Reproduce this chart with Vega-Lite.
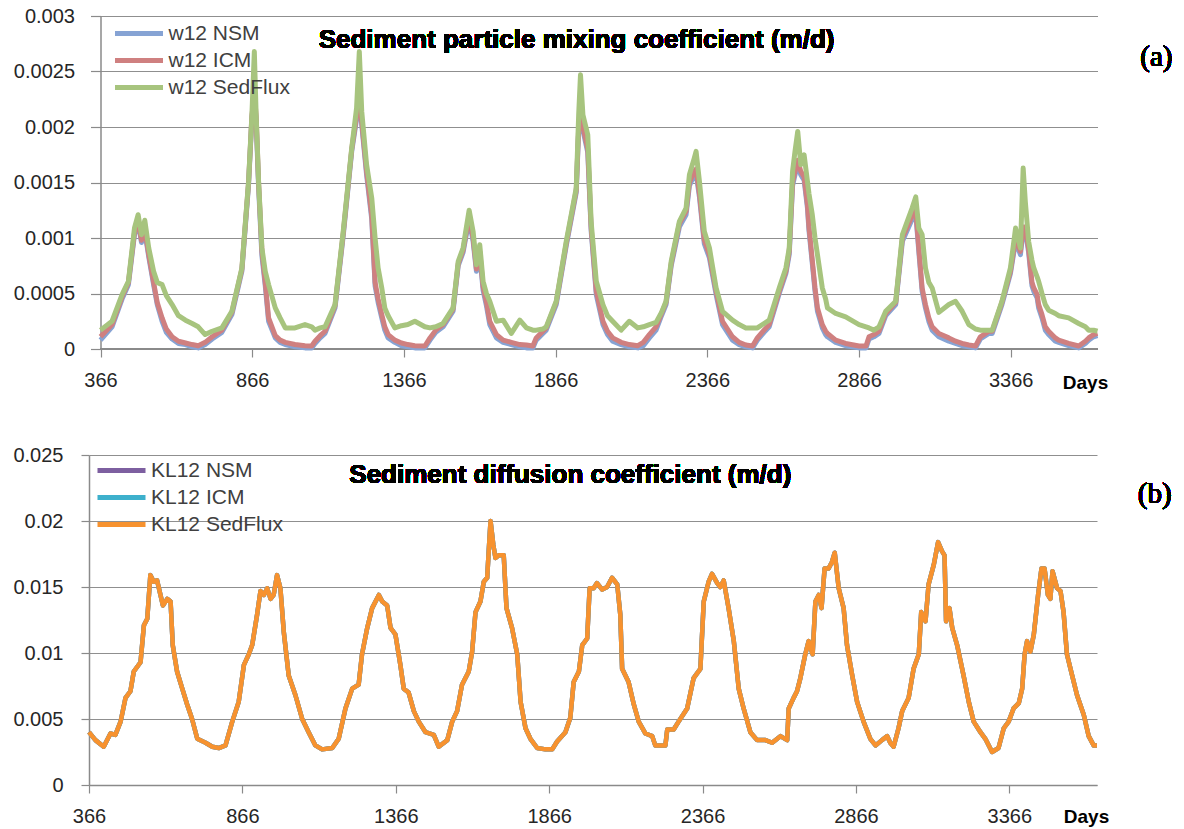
{
  "$schema": "https://vega.github.io/schema/vega-lite/v6.json",
  "background": "white",
  "padding": {"left": 12, "top": 6, "right": 5, "bottom": 5},
  "spacing": 53,
  "resolve": {"scale": {"color": "independent"}, "legend": {"color": "independent"}},
  "config": {
    "view": {"stroke": null},
    "font": "Liberation Sans",
    "axis": {
      "labelFont": "Liberation Sans",
      "labelFontSize": 20,
      "labelColor": "#262626",
      "domainColor": "#8a8a8a",
      "domainWidth": 1.5,
      "tickColor": "#8a8a8a",
      "tickWidth": 1.2,
      "gridColor": "#8f8f8f",
      "gridWidth": 1,
      "titleFont": "Liberation Sans",
      "titleColor": "#000000"
    }
  },
  "vconcat": [
    {
      "width": 1008.5,
      "height": 333,
      "data": {"values": [
        {"d":366,"b":0.00008,"r":0.00011,"g":0.00017},
        {"d":404,"b":0.0002,"r":0.00022,"g":0.00025},
        {"d":437,"b":0.00045,"r":0.00047,"g":0.00049},
        {"d":458,"b":0.00058,"r":0.0006,"g":0.00061},
        {"d":478,"b":0.00103,"r":0.00105,"g":0.00109},
        {"d":490,"b":0.00114,"r":0.00116,"g":0.00121},
        {"d":501,"b":0.00096,"r":0.00098,"g":0.00103},
        {"d":512,"b":0.00106,"r":0.00108,"g":0.00116},
        {"d":525,"b":0.00083,"r":0.00085,"g":0.00091},
        {"d":541,"b":0.00058,"r":0.0006,"g":0.0007},
        {"d":553,"b":0.0004,"r":0.00042,"g":0.0006},
        {"d":569,"b":0.00025,"r":0.00028,"g":0.00058},
        {"d":583,"b":0.00015,"r":0.00018,"g":0.00048},
        {"d":602,"b":0.00009,"r":0.00011,"g":0.0004},
        {"d":623,"b":0.00005,"r":0.00007,"g":0.0003},
        {"d":646,"b":0.00004,"r":0.000054,"g":0.00026},
        {"d":668,"b":0.00002,"r":0.00004,"g":0.00023},
        {"d":688,"b":0.00001,"r":0.00003,"g":0.0002},
        {"d":711,"b":0.00004,"r":0.00006,"g":0.00013},
        {"d":734,"b":0.00009,"r":0.00011,"g":0.00016},
        {"d":766,"b":0.00015,"r":0.00017,"g":0.00019},
        {"d":799,"b":0.00031,"r":0.00033,"g":0.00034},
        {"d":832,"b":0.0007,"r":0.00072,"g":0.00073},
        {"d":854,"b":0.00148,"r":0.0015,"g":0.00151},
        {"d":865,"b":0.00208,"r":0.0021,"g":0.00211},
        {"d":873,"b":0.00228,"r":0.0023,"g":0.00268},
        {"d":879,"b":0.00205,"r":0.0021,"g":0.00211},
        {"d":887,"b":0.00146,"r":0.0015,"g":0.00151},
        {"d":898,"b":0.00084,"r":0.00088,"g":0.00091},
        {"d":909,"b":0.00057,"r":0.0006,"g":0.0007},
        {"d":920,"b":0.00025,"r":0.00028,"g":0.00058},
        {"d":942,"b":0.0001,"r":0.00012,"g":0.00037},
        {"d":958,"b":0.00006,"r":0.00008,"g":0.00028},
        {"d":975,"b":0.00004,"r":0.00006,"g":0.00019},
        {"d":1007,"b":0.00002,"r":0.00004,"g":0.00019},
        {"d":1040,"b":0.00001,"r":0.00003,"g":0.00022},
        {"d":1062,"b":0.00001,"r":0.000027,"g":0.0002},
        {"d":1073,"b":0.00005,"r":0.00007,"g":0.00017},
        {"d":1090,"b":0.0001,"r":0.00012,"g":0.00019},
        {"d":1106,"b":0.00014,"r":0.00016,"g":0.0002},
        {"d":1139,"b":0.00037,"r":0.00039,"g":0.0004},
        {"d":1166,"b":0.00102,"r":0.00104,"g":0.00106},
        {"d":1194,"b":0.00178,"r":0.0018,"g":0.00181},
        {"d":1210,"b":0.00207,"r":0.0021,"g":0.00217},
        {"d":1219,"b":0.00227,"r":0.0023,"g":0.00268},
        {"d":1227,"b":0.00202,"r":0.00205,"g":0.00214},
        {"d":1243,"b":0.00157,"r":0.0016,"g":0.00166},
        {"d":1260,"b":0.00117,"r":0.0012,"g":0.00136},
        {"d":1271,"b":0.00057,"r":0.0006,"g":0.001},
        {"d":1281,"b":0.00042,"r":0.00045,"g":0.00073},
        {"d":1293,"b":0.00028,"r":0.00031,"g":0.00055},
        {"d":1303,"b":0.00017,"r":0.0002,"g":0.00037},
        {"d":1314,"b":0.0001,"r":0.00013,"g":0.0003},
        {"d":1336,"b":0.00006,"r":0.00008,"g":0.00019},
        {"d":1358,"b":0.00003,"r":0.000054,"g":0.00021},
        {"d":1379,"b":0.00002,"r":0.00004,"g":0.00022},
        {"d":1402,"b":0.00001,"r":0.00003,"g":0.00025},
        {"d":1435,"b":0.00001,"r":0.000027,"g":0.0002},
        {"d":1452,"b":0.00008,"r":0.0001,"g":0.00019},
        {"d":1471,"b":0.00015,"r":0.00017,"g":0.0002},
        {"d":1495,"b":0.0002,"r":0.00022,"g":0.00023},
        {"d":1528,"b":0.00034,"r":0.00036,"g":0.00037},
        {"d":1545,"b":0.00075,"r":0.00077,"g":0.00079},
        {"d":1561,"b":0.00087,"r":0.00089,"g":0.00091},
        {"d":1581,"b":0.00117,"r":0.0012,"g":0.00125},
        {"d":1594,"b":0.00097,"r":0.001,"g":0.00106},
        {"d":1605,"b":0.0007,"r":0.00072,"g":0.00076},
        {"d":1616,"b":0.00085,"r":0.00088,"g":0.00094},
        {"d":1627,"b":0.00053,"r":0.00056,"g":0.00061},
        {"d":1638,"b":0.00039,"r":0.00042,"g":0.0005},
        {"d":1649,"b":0.00022,"r":0.00025,"g":0.00043},
        {"d":1671,"b":0.0001,"r":0.00013,"g":0.00025},
        {"d":1693,"b":0.00006,"r":0.00008,"g":0.00026},
        {"d":1720,"b":0.00004,"r":0.00006,"g":0.00014},
        {"d":1748,"b":0.00002,"r":0.00004,"g":0.00026},
        {"d":1770,"b":0.00001,"r":0.000036,"g":0.00019},
        {"d":1791,"b":0.00001,"r":0.000027,"g":0.00017},
        {"d":1802,"b":0.00008,"r":0.0001,"g":0.00017},
        {"d":1824,"b":0.00014,"r":0.00016,"g":0.00018},
        {"d":1835,"b":0.00017,"r":0.00019,"g":0.0002},
        {"d":1868,"b":0.0004,"r":0.00042,"g":0.00043},
        {"d":1901,"b":0.00093,"r":0.00095,"g":0.00097},
        {"d":1934,"b":0.00141,"r":0.00143,"g":0.00145},
        {"d":1942,"b":0.00197,"r":0.002,"g":0.00211},
        {"d":1948,"b":0.00216,"r":0.0022,"g":0.00247},
        {"d":1956,"b":0.00197,"r":0.002,"g":0.00211},
        {"d":1972,"b":0.00177,"r":0.0018,"g":0.00193},
        {"d":1983,"b":0.00107,"r":0.0011,"g":0.00115},
        {"d":2000,"b":0.00049,"r":0.00052,"g":0.00061},
        {"d":2022,"b":0.00022,"r":0.00025,"g":0.0004},
        {"d":2037,"b":0.00013,"r":0.00016,"g":0.0003},
        {"d":2054,"b":0.00007,"r":0.0001,"g":0.00025},
        {"d":2082,"b":0.00004,"r":0.00006,"g":0.00017},
        {"d":2109,"b":0.00002,"r":0.00004,"g":0.00025},
        {"d":2137,"b":0.00001,"r":0.00003,"g":0.00019},
        {"d":2155,"b":0.00003,"r":0.00006,"g":0.0002},
        {"d":2175,"b":0.0001,"r":0.00013,"g":0.00022},
        {"d":2197,"b":0.00017,"r":0.0002,"g":0.00024},
        {"d":2215,"b":0.0003,"r":0.00032,"g":0.00033},
        {"d":2230,"b":0.0004,"r":0.00042,"g":0.00043},
        {"d":2247,"b":0.00075,"r":0.00077,"g":0.00079},
        {"d":2274,"b":0.0011,"r":0.00113,"g":0.00115},
        {"d":2296,"b":0.00121,"r":0.00124,"g":0.00127},
        {"d":2307,"b":0.00147,"r":0.0015,"g":0.00157},
        {"d":2323,"b":0.00157,"r":0.0016,"g":0.00172},
        {"d":2329,"b":0.00158,"r":0.00162,"g":0.00178},
        {"d":2340,"b":0.00137,"r":0.0014,"g":0.00151},
        {"d":2356,"b":0.00095,"r":0.00098,"g":0.00106},
        {"d":2373,"b":0.00082,"r":0.00085,"g":0.00091},
        {"d":2395,"b":0.00049,"r":0.00052,"g":0.00055},
        {"d":2416,"b":0.00022,"r":0.00025,"g":0.00034},
        {"d":2449,"b":0.00008,"r":0.00011,"g":0.00026},
        {"d":2471,"b":0.00004,"r":0.00006,"g":0.00022},
        {"d":2493,"b":0.00002,"r":0.000036,"g":0.00019},
        {"d":2515,"b":0.00001,"r":0.000027,"g":0.00019},
        {"d":2531,"b":0.00008,"r":0.0001,"g":0.00019},
        {"d":2553,"b":0.00015,"r":0.00017,"g":0.00023},
        {"d":2570,"b":0.0002,"r":0.00022,"g":0.00026},
        {"d":2603,"b":0.0005,"r":0.00052,"g":0.00055},
        {"d":2625,"b":0.00068,"r":0.0007,"g":0.00073},
        {"d":2636,"b":0.00085,"r":0.00088,"g":0.00091},
        {"d":2647,"b":0.00147,"r":0.0015,"g":0.0016},
        {"d":2655,"b":0.00157,"r":0.0016,"g":0.00178},
        {"d":2664,"b":0.00166,"r":0.0017,"g":0.00196},
        {"d":2674,"b":0.00157,"r":0.0016,"g":0.00166},
        {"d":2685,"b":0.00152,"r":0.00155,"g":0.00175},
        {"d":2696,"b":0.00127,"r":0.0013,"g":0.00151},
        {"d":2701,"b":0.00107,"r":0.0011,"g":0.0014},
        {"d":2712,"b":0.00077,"r":0.0008,"g":0.00121},
        {"d":2721,"b":0.00052,"r":0.00055,"g":0.001},
        {"d":2729,"b":0.00034,"r":0.00037,"g":0.00085},
        {"d":2745,"b":0.00019,"r":0.00022,"g":0.00055},
        {"d":2756,"b":0.00013,"r":0.00016,"g":0.00045},
        {"d":2762,"b":0.00011,"r":0.00014,"g":0.00037},
        {"d":2789,"b":0.00006,"r":0.00008,"g":0.00032},
        {"d":2822,"b":0.00003,"r":0.00005,"g":0.00029},
        {"d":2866,"b":0.00001,"r":0.000027,"g":0.00022},
        {"d":2889,"b":0.00001,"r":0.000027,"g":0.0002},
        {"d":2899,"b":0.00009,"r":0.00011,"g":0.00019},
        {"d":2915,"b":0.00011,"r":0.00013,"g":0.00017},
        {"d":2932,"b":0.00014,"r":0.00016,"g":0.0002},
        {"d":2954,"b":0.0003,"r":0.00032,"g":0.00034},
        {"d":2987,"b":0.0004,"r":0.00042,"g":0.00043},
        {"d":3009,"b":0.00097,"r":0.001,"g":0.00103},
        {"d":3025,"b":0.00107,"r":0.0011,"g":0.00115},
        {"d":3041,"b":0.00117,"r":0.0012,"g":0.00127},
        {"d":3053,"b":0.00122,"r":0.00125,"g":0.00137},
        {"d":3063,"b":0.00088,"r":0.00091,"g":0.00109},
        {"d":3074,"b":0.00052,"r":0.00055,"g":0.00103},
        {"d":3085,"b":0.00037,"r":0.0004,"g":0.00073},
        {"d":3096,"b":0.00025,"r":0.00028,"g":0.0006},
        {"d":3107,"b":0.00017,"r":0.0002,"g":0.00055},
        {"d":3129,"b":0.00011,"r":0.00014,"g":0.00033},
        {"d":3162,"b":0.00007,"r":0.0001,"g":0.0004},
        {"d":3184,"b":0.00005,"r":0.00007,"g":0.00043},
        {"d":3206,"b":0.00003,"r":0.00005,"g":0.00034},
        {"d":3228,"b":0.00002,"r":0.000036,"g":0.00022},
        {"d":3250,"b":0.00001,"r":0.000027,"g":0.00018},
        {"d":3266,"b":0.00009,"r":0.00011,"g":0.00017},
        {"d":3294,"b":0.00014,"r":0.00016,"g":0.00017},
        {"d":3305,"b":0.00014,"r":0.00016,"g":0.00017},
        {"d":3337,"b":0.0004,"r":0.00042,"g":0.00043},
        {"d":3365,"b":0.00068,"r":0.0007,"g":0.00073},
        {"d":3382,"b":0.00097,"r":0.001,"g":0.00109},
        {"d":3398,"b":0.00085,"r":0.00088,"g":0.00091},
        {"d":3407,"b":0.00107,"r":0.0011,"g":0.00163},
        {"d":3414,"b":0.00107,"r":0.0011,"g":0.00133},
        {"d":3425,"b":0.00087,"r":0.0009,"g":0.00097},
        {"d":3436,"b":0.00057,"r":0.0006,"g":0.0008},
        {"d":3442,"b":0.00052,"r":0.00055,"g":0.00073},
        {"d":3453,"b":0.00046,"r":0.00049,"g":0.00065},
        {"d":3458,"b":0.00037,"r":0.0004,"g":0.00061},
        {"d":3469,"b":0.00028,"r":0.00031,"g":0.0005},
        {"d":3480,"b":0.00017,"r":0.0002,"g":0.0004},
        {"d":3491,"b":0.00013,"r":0.00016,"g":0.00035},
        {"d":3513,"b":0.00007,"r":0.0001,"g":0.00032},
        {"d":3524,"b":0.00006,"r":0.00008,"g":0.0003},
        {"d":3557,"b":0.00003,"r":0.00005,"g":0.00028},
        {"d":3590,"b":0.00001,"r":0.000027,"g":0.00023},
        {"d":3612,"b":0.00005,"r":0.00007,"g":0.0002},
        {"d":3623,"b":0.00008,"r":0.0001,"g":0.00017},
        {"d":3639,"b":0.00011,"r":0.00013,"g":0.00017},
        {"d":3652,"b":0.00012,"r":0.00014,"g":0.00016}
      ]},
      "encoding": {
        "x": {
          "field": "d", "type": "quantitative",
          "scale": {"domain": [366, 3652], "nice": false, "zero": false, "range": [11.5, 1008.5]},
          "axis": {
            "values": [366, 866, 1366, 1866, 2366, 2866, 3366],
            "format": "d", "grid": false, "domain": false, "tickSize": 8, "labelPadding": 13,
            "labelFlush": false,
            "title": "Days", "titleFontWeight": "bold", "titleFontSize": 19,
            "titleX": 996, "titleY": 39, "titleAlign": "center", "titleBaseline": "alphabetic"
          }
        }
      },
      "layer": [
        {
          "mark": {"type": "rule", "color": "#8a8a8a", "strokeWidth": 1.5},
          "encoding": {
            "x": {"datum": 366, "type": "quantitative"},
            "x2": {"datum": 3652},
            "y": {"datum": 0, "type": "quantitative",
              "scale": {"domain": [0, 0.003], "nice": false},
              "axis": {"values": [0, 0.0005, 0.001, 0.0015, 0.002, 0.0025, 0.003], "format": "~g",
                "tickSize": 10, "labelPadding": 16, "grid": true, "title": null, "offset": -11.5}}
          }
        },
        {
          "mark": {"type": "line", "strokeWidth": 5, "strokeJoin": "round"},
          "encoding": {
            "y": {"field": "b", "type": "quantitative", "axis": {"title": null}},
            "color": {"datum": "w12 NSM", "type": "nominal",
              "scale": {"domain": ["w12 NSM", "w12 ICM", "w12 SedFlux"], "range": ["#86A3D4", "#CF8080", "#A7C47E"]},
              "legend": {"orient": "none", "legendX": 23.5, "legendY": 4, "direction": "vertical",
                "symbolType": "stroke", "symbolSize": 2304, "symbolStrokeWidth": 5, "clipHeight": 27,
                "rowPadding": 0, "labelFontSize": 21, "labelFont": "Liberation Sans", "labelColor": "#404040",
                "labelOffset": 3, "padding": 0, "title": null}}
          }
        },
        {
          "mark": {"type": "line", "strokeWidth": 5, "strokeJoin": "round"},
          "encoding": {
            "y": {"field": "r", "type": "quantitative", "axis": {"title": null}},
            "color": {"datum": "w12 ICM", "type": "nominal"}
          }
        },
        {
          "mark": {"type": "line", "strokeWidth": 5, "strokeJoin": "round"},
          "encoding": {
            "y": {"field": "g", "type": "quantitative", "axis": {"title": null}},
            "color": {"datum": "w12 SedFlux", "type": "nominal"}
          }
        },
        {
          "mark": {"type": "text", "text": "Sediment particle mixing coefficient (m/d)", "font": "Liberation Sans",
            "fontSize": 26, "fontWeight": "bold", "align": "center", "baseline": "alphabetic",
            "fill": "#000000", "stroke": "transparent", "strokeWidth": 0},
          "encoding": {
            "x": {"datum": 1935, "type": "quantitative"},
            "y": {"datum": 0.00271, "type": "quantitative"}
          }
        },
        {
          "mark": {"type": "text", "text": "(a)", "font": "Liberation Serif",
            "fontSize": 29, "align": "center", "baseline": "alphabetic",
            "fill": "#000000", "stroke": "transparent", "strokeWidth": 0},
          "encoding": {
            "x": {"datum": 3846, "type": "quantitative"},
            "y": {"datum": 0.00255, "type": "quantitative"}
          }
        }
      ]
    },
    {
      "width": 1008,
      "height": 330,
      "data": {"values": [
        {"d":366,"k":0.004},{"d":387,"k":0.0034},{"d":414,"k":0.0029},{"d":436,"k":0.0039},{"d":452,"k":0.0038},
        {"d":469,"k":0.0048},{"d":485,"k":0.0066},{"d":501,"k":0.0071},{"d":512,"k":0.0086},{"d":534,"k":0.0093},
        {"d":545,"k":0.0121},{"d":556,"k":0.0126},{"d":566,"k":0.0159},{"d":577,"k":0.0154},{"d":588,"k":0.0155},
        {"d":607,"k":0.0136},{"d":621,"k":0.0141},{"d":632,"k":0.0139},{"d":639,"k":0.0106},{"d":653,"k":0.0086},
        {"d":670,"k":0.0073},{"d":686,"k":0.0061},{"d":702,"k":0.005},{"d":719,"k":0.0035},{"d":746,"k":0.0032},
        {"d":768,"k":0.0029},{"d":789,"k":0.0028},{"d":811,"k":0.003},{"d":833,"k":0.0048},{"d":854,"k":0.0063},
        {"d":871,"k":0.0091},{"d":887,"k":0.0099},{"d":898,"k":0.0106},{"d":914,"k":0.0129},{"d":925,"k":0.0147},
        {"d":936,"k":0.0144},{"d":947,"k":0.0149},{"d":958,"k":0.0141},{"d":968,"k":0.0144},{"d":979,"k":0.0159},
        {"d":990,"k":0.0149},{"d":1001,"k":0.0116},{"d":1017,"k":0.0083},{"d":1039,"k":0.0068},{"d":1061,"k":0.005},
        {"d":1082,"k":0.004},{"d":1104,"k":0.003},{"d":1126,"k":0.0027},{"d":1159,"k":0.0028},{"d":1180,"k":0.0035},
        {"d":1202,"k":0.0058},{"d":1224,"k":0.0073},{"d":1245,"k":0.0076},{"d":1256,"k":0.0099},{"d":1273,"k":0.0119},
        {"d":1289,"k":0.0134},{"d":1311,"k":0.0144},{"d":1322,"k":0.0139},{"d":1338,"k":0.0136},{"d":1349,"k":0.0119},
        {"d":1365,"k":0.0114},{"d":1381,"k":0.0091},{"d":1392,"k":0.0073},{"d":1408,"k":0.007},{"d":1425,"k":0.0056},
        {"d":1441,"k":0.0048},{"d":1463,"k":0.004},{"d":1490,"k":0.0038},{"d":1506,"k":0.0029},{"d":1534,"k":0.0034},
        {"d":1550,"k":0.0048},{"d":1566,"k":0.0056},{"d":1582,"k":0.0076},{"d":1604,"k":0.0086},{"d":1615,"k":0.0101},
        {"d":1626,"k":0.0131},{"d":1642,"k":0.0139},{"d":1653,"k":0.0154},{"d":1664,"k":0.0157},{"d":1669,"k":0.0177},
        {"d":1675,"k":0.02},{"d":1684,"k":0.0182},{"d":1691,"k":0.0172},{"d":1702,"k":0.0174},{"d":1718,"k":0.0174},
        {"d":1727,"k":0.0134},{"d":1745,"k":0.0119},{"d":1762,"k":0.0099},{"d":1773,"k":0.0063},{"d":1789,"k":0.0043},
        {"d":1805,"k":0.0035},{"d":1827,"k":0.0028},{"d":1854,"k":0.0027},{"d":1876,"k":0.0027},{"d":1892,"k":0.0033},
        {"d":1919,"k":0.004},{"d":1935,"k":0.0051},{"d":1946,"k":0.0078},{"d":1963,"k":0.0086},{"d":1974,"k":0.0106},
        {"d":1990,"k":0.0111},{"d":1998,"k":0.0149},{"d":2011,"k":0.0149},{"d":2022,"k":0.0153},{"d":2039,"k":0.0148},
        {"d":2055,"k":0.015},{"d":2071,"k":0.0157},{"d":2088,"k":0.0152},{"d":2098,"k":0.0129},{"d":2104,"k":0.0088},
        {"d":2125,"k":0.0078},{"d":2142,"k":0.0061},{"d":2158,"k":0.0048},{"d":2180,"k":0.0039},{"d":2202,"k":0.0037},
        {"d":2212,"k":0.003},{"d":2245,"k":0.003},{"d":2251,"k":0.0042},{"d":2272,"k":0.0042},{"d":2288,"k":0.0048},
        {"d":2316,"k":0.0058},{"d":2337,"k":0.0081},{"d":2359,"k":0.0088},{"d":2370,"k":0.0139},{"d":2386,"k":0.0154},
        {"d":2397,"k":0.016},{"d":2414,"k":0.0153},{"d":2424,"k":0.015},{"d":2435,"k":0.0155},{"d":2451,"k":0.0134},
        {"d":2468,"k":0.0109},{"d":2484,"k":0.0073},{"d":2500,"k":0.0058},{"d":2522,"k":0.004},{"d":2544,"k":0.0034},
        {"d":2571,"k":0.0034},{"d":2593,"k":0.0032},{"d":2620,"k":0.0037},{"d":2642,"k":0.0034},{"d":2647,"k":0.0058},
        {"d":2663,"k":0.0066},{"d":2674,"k":0.0071},{"d":2685,"k":0.0081},{"d":2701,"k":0.0099},{"d":2712,"k":0.0109},
        {"d":2725,"k":0.0099},{"d":2734,"k":0.0139},{"d":2745,"k":0.0144},{"d":2754,"k":0.0134},{"d":2764,"k":0.0164},
        {"d":2777,"k":0.0164},{"d":2788,"k":0.0169},{"d":2797,"k":0.0176},{"d":2810,"k":0.0149},{"d":2826,"k":0.0134},
        {"d":2837,"k":0.0106},{"d":2854,"k":0.0083},{"d":2870,"k":0.0063},{"d":2891,"k":0.0048},{"d":2913,"k":0.0035},
        {"d":2930,"k":0.003},{"d":2951,"k":0.0034},{"d":2968,"k":0.0037},{"d":2978,"k":0.0032},{"d":2989,"k":0.0029},
        {"d":3005,"k":0.0043},{"d":3017,"k":0.0056},{"d":3038,"k":0.0066},{"d":3054,"k":0.0088},{"d":3071,"k":0.0099},
        {"d":3079,"k":0.0131},{"d":3093,"k":0.0124},{"d":3103,"k":0.0152},{"d":3120,"k":0.0167},{"d":3134,"k":0.0184},
        {"d":3147,"k":0.0177},{"d":3155,"k":0.0174},{"d":3160,"k":0.0124},{"d":3171,"k":0.0134},{"d":3180,"k":0.0119},
        {"d":3196,"k":0.0106},{"d":3217,"k":0.0083},{"d":3234,"k":0.0063},{"d":3250,"k":0.0048},{"d":3272,"k":0.004},
        {"d":3288,"k":0.0035},{"d":3310,"k":0.0025},{"d":3331,"k":0.0028},{"d":3348,"k":0.0043},{"d":3364,"k":0.0048},
        {"d":3380,"k":0.0058},{"d":3397,"k":0.0062},{"d":3408,"k":0.0073},{"d":3416,"k":0.0099},{"d":3424,"k":0.0109},
        {"d":3435,"k":0.0101},{"d":3446,"k":0.0114},{"d":3460,"k":0.0144},{"d":3471,"k":0.0164},{"d":3481,"k":0.0164},
        {"d":3492,"k":0.0144},{"d":3500,"k":0.0141},{"d":3507,"k":0.0162},{"d":3522,"k":0.0149},{"d":3533,"k":0.0147},
        {"d":3543,"k":0.0131},{"d":3554,"k":0.0099},{"d":3571,"k":0.0083},{"d":3587,"k":0.0068},{"d":3609,"k":0.0053},
        {"d":3625,"k":0.0037},{"d":3641,"k":0.003},{"d":3652,"k":0.003}
      ]},
      "encoding": {
        "x": {
          "field": "d", "type": "quantitative",
          "scale": {"domain": [366, 3652], "nice": false, "zero": false},
          "axis": {
            "values": [366, 866, 1366, 1866, 2366, 2866, 3366],
            "format": "d", "grid": false, "tickSize": 8, "labelPadding": 13,
            "labelFlush": false,
            "title": "Days", "titleFontWeight": "bold", "titleFontSize": 19,
            "titleX": 997, "titleY": 37, "titleAlign": "center", "titleBaseline": "alphabetic"
          }
        },
        "y": {"field": "k", "type": "quantitative",
          "scale": {"domain": [0, 0.025], "nice": false},
          "axis": {"values": [0, 0.005, 0.01, 0.015, 0.02, 0.025], "format": "~g",
            "tickSize": 8, "labelPadding": 18, "grid": true, "title": null}}
      },
      "layer": [
        {
          "mark": {"type": "line", "strokeWidth": 4.5, "strokeJoin": "round"},
          "encoding": {
            "color": {"datum": "KL12 NSM", "type": "nominal",
              "scale": {"domain": ["KL12 NSM", "KL12 ICM", "KL12 SedFlux"], "range": ["#7D5FA0", "#3DB0CC", "#F7922F"]},
              "legend": {"orient": "none", "legendX": 6, "legendY": 2, "direction": "vertical",
                "symbolType": "stroke", "symbolSize": 2304, "symbolStrokeWidth": 5, "clipHeight": 27,
                "rowPadding": 0, "labelFontSize": 21, "labelFont": "Liberation Sans", "labelColor": "#404040",
                "labelOffset": 3, "padding": 0, "title": null}}
          }
        },
        {
          "mark": {"type": "line", "strokeWidth": 4.5, "strokeJoin": "round"},
          "encoding": {"color": {"datum": "KL12 ICM", "type": "nominal"}}
        },
        {
          "mark": {"type": "line", "strokeWidth": 4.5, "strokeJoin": "round"},
          "encoding": {"color": {"datum": "KL12 SedFlux", "type": "nominal"}}
        },
        {
          "mark": {"type": "text", "text": "Sediment diffusion coefficient (m/d)", "font": "Liberation Sans",
            "fontSize": 26, "fontWeight": "bold", "align": "center", "baseline": "alphabetic",
            "fill": "#000000", "stroke": "transparent", "strokeWidth": 0},
          "encoding": {
            "x": {"datum": 1935, "type": "quantitative"},
            "y": {"datum": 0.02288, "type": "quantitative"}
          }
        },
        {
          "mark": {"type": "text", "text": "(b)", "font": "Liberation Serif",
            "fontSize": 29, "align": "center", "baseline": "alphabetic",
            "fill": "#000000", "stroke": "transparent", "strokeWidth": 0},
          "encoding": {
            "x": {"datum": 3840, "type": "quantitative"},
            "y": {"datum": 0.02136, "type": "quantitative"}
          }
        }
      ]
    }
  ]
}
